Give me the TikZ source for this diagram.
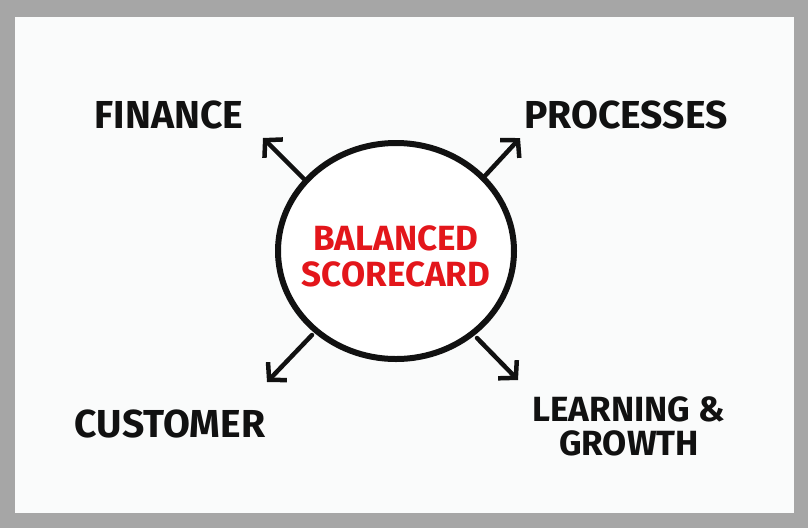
\documentclass[tikz,border=0pt]{standalone}
\usepackage{fontspec}
\setmainfont{Fira Sans}
\usetikzlibrary{arrows.meta,shapes.geometric}
\definecolor{frame}{HTML}{A6A6A6}
\definecolor{paper}{HTML}{FAFBFB}
\definecolor{ink}{HTML}{111111}
\definecolor{redink}{HTML}{E3161B}
\tikzset{
  lbl/.style={font=\fontsize{39}{39}\selectfont\bfseries, text=ink, inner sep=0pt, align=center},
  lbltwo/.style={font=\fontsize{35}{34}\selectfont\bfseries, text=ink, inner sep=0pt, align=center},
  core/.style={draw=ink, line width=6pt, ellipse, minimum width=236pt, minimum height=216pt, fill=white},
  redtxt/.style={font=\fontsize{35}{36}\selectfont\bfseries, text=redink, inner sep=0pt, align=center},
  ray/.style={draw=ink, line width=4.5pt, -{Straight Barb[length=12pt,width=26pt,line width=4.5pt]}, line cap=round}
}
\begin{document}
\begin{tikzpicture}[x=1pt,y=-1pt]
\useasboundingbox (0,0) rectangle (808,528);
\fill[frame] (0,0) rectangle (808,528);
\fill[paper] (15,17) rectangle (794,513);
\node[core] (c) at (396,251) {};
\node[redtxt] (t) at (396,256) {BALANCED\\SCORECARD};
\coordinate (a1s) at (305,180); \coordinate (a1e) at (263,138);
\coordinate (a2s) at (483,178); \coordinate (a2e) at (520,138);
\coordinate (a3s) at (312,335); \coordinate (a3e) at (267,382);
\coordinate (a4s) at (477,338); \coordinate (a4e) at (518,380);
\draw[ray] (a1s) -- (a1e);
\draw[ray] (a2s) -- (a2e);
\draw[ray] (a3s) -- (a3e);
\draw[ray] (a4s) -- (a4e);
\node[lbl] (fin) at (169,115) {FINANCE};
\node[lbl] (pro) at (626,115) {PROCESSES};
\node[lbl] (cus) at (170,424) {CUSTOMER};
\node[lbltwo] (lea) at (629,426) {LEARNING \&\\GROWTH};
\end{tikzpicture}
\end{document}
